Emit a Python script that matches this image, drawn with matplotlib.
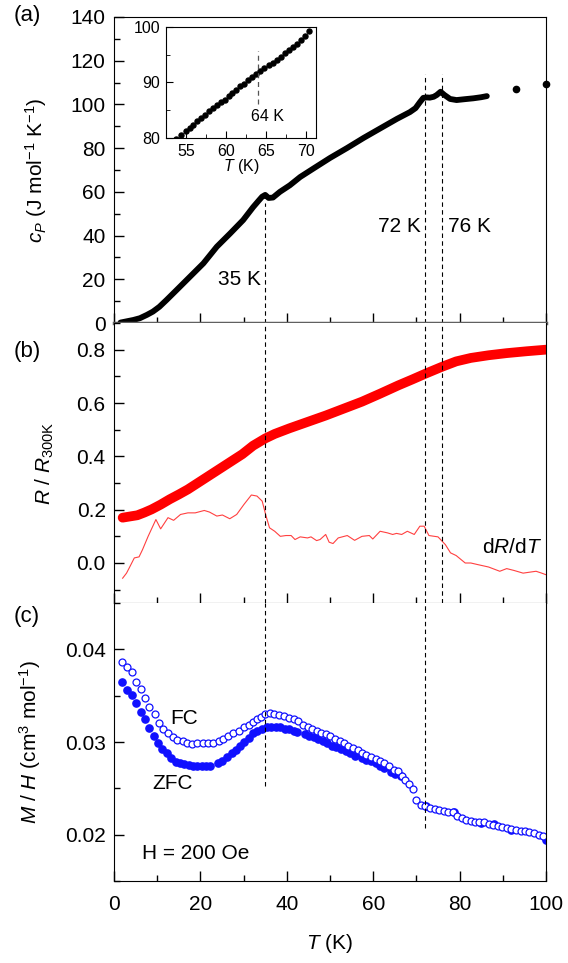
import matplotlib
matplotlib.use('Agg')
import matplotlib.pyplot as plt
from matplotlib.ticker import MultipleLocator

plt.rcParams['font.family'] = ['Liberation Sans', 'DejaVu Sans']
plt.rcParams['mathtext.fontset'] = 'custom'
plt.rcParams['mathtext.rm'] = 'Liberation Sans'
plt.rcParams['mathtext.it'] = 'Liberation Sans:italic'
plt.rcParams['font.size'] = 15

# (a) specific heat
T_cp = [1.5, 3, 4.5, 6, 7.6, 9, 10.5, 12.2, 14.5, 17.6, 20.7, 23.8, 26.9, 29.9,
        32.2, 33.5, 34.3, 35.0, 35.8, 36.8, 38.4, 40.7, 43.1, 46.1, 50, 53.9,
        57.8, 61.6, 65.5, 68.5, 69.8, 70.8, 71.6, 72.4, 73.1, 74.0, 74.7, 75.6,
        76.5, 77.8, 79.3, 81.2, 83.2, 85.0, 86.3]
cp = [0.2, 0.8, 1.4, 2.2, 3.7, 5.2, 7.4, 10.6, 15.1, 21.2, 27.3, 34.9, 41.0, 47.1,
      53.0, 56.0, 57.8, 58.6, 57.2, 57.4, 60.0, 63.0, 66.8, 70.6, 75.5, 80.0,
      84.7, 89.0, 93.4, 96.5, 98.3, 101.0, 103.0, 103.2, 103.1, 103.5, 104.3, 105.8,
      104.3, 102.5, 102.0, 102.4, 102.8, 103.3, 103.8]
T_cp_sparse = [93.1, 100.0]
cp_sparse = [106.9, 109.2]

# inset of (a)
T_in = [53.74, 54.44, 54.98, 55.47, 55.88, 56.38, 56.87, 57.37, 57.86, 58.36,
        58.85, 59.35, 59.84, 60.34, 60.83, 61.33, 61.82, 62.32, 62.81, 63.31,
        63.80, 64.34, 64.83, 65.37, 65.87, 66.40, 66.94, 67.43, 67.93, 68.42,
        68.92, 69.42, 69.91, 70.40]
cp_in = [79.9, 80.5, 81.2, 81.8, 82.4, 83.0, 83.6, 84.2, 84.8, 85.4,
         86.0, 86.5, 86.9, 87.5, 88.1, 88.7, 89.3, 89.7, 90.4, 91.0,
         91.6, 92.1, 92.6, 93.1, 93.6, 94.0, 94.6, 95.4, 95.8, 96.4,
         97.0, 97.7, 98.4, 99.3]

# (b) resistance
T_R = [2.0, 3.5, 5.4, 7.0, 8.7, 10.8, 12.9, 15.0, 17.1, 19.2, 21.3, 23.4, 25.5,
       27.6, 29.7, 32.2, 35.0, 37.2, 40.6, 44.8, 49.0, 53.2, 57.4, 61.6, 65.8,
       69.0, 72.1, 75.8, 79.2, 82.6, 86.7, 90.9, 95.5, 100.0]
R = [0.170, 0.174, 0.179, 0.189, 0.201, 0.219, 0.239, 0.257, 0.276, 0.298, 0.320,
     0.342, 0.364, 0.386, 0.408, 0.440, 0.467, 0.484, 0.505, 0.529, 0.553, 0.579,
     0.605, 0.635, 0.666, 0.688, 0.710, 0.735, 0.756, 0.769, 0.779, 0.787, 0.794, 0.800]

T_dR = [2.0, 2.9, 3.7, 4.7, 5.8, 6.6, 7.9, 9.7, 10.8, 12.5, 13.8, 15.4, 17.1, 18.8,
        20.9, 22.1, 23.8, 25.1, 26.8, 28.4, 30.1, 31.8, 33.1, 34.3, 35.2, 36.0,
        37.2, 38.5, 39.8, 41.0, 41.9, 43.1, 44.8, 45.6, 46.9, 47.7, 49.0, 49.8,
        50.7, 51.9, 54.0, 55.7, 57.4, 59.1, 59.9, 61.6, 63.3, 64.5, 65.4, 66.6,
        67.9, 69.5, 70.8, 71.8, 72.9, 75.0, 76.7, 77.9, 79.2, 81.3, 82.6, 84.2,
        86.7, 89.3, 90.9, 92.6, 94.7, 96.4, 97.7, 99.0, 100.0]
dRdT = [-0.057, -0.038, -0.013, 0.019, 0.023, 0.050, 0.100, 0.163, 0.128, 0.170,
        0.160, 0.182, 0.188, 0.188, 0.197, 0.191, 0.176, 0.180, 0.166, 0.182,
        0.220, 0.255, 0.251, 0.232, 0.176, 0.132, 0.119, 0.100, 0.103, 0.103,
        0.088, 0.098, 0.094, 0.098, 0.084, 0.088, 0.107, 0.078, 0.073, 0.094,
        0.103, 0.085, 0.100, 0.103, 0.090, 0.119, 0.113, 0.107, 0.111, 0.107,
        0.119, 0.107, 0.138, 0.138, 0.103, 0.098, 0.069, 0.038, 0.028, 0.000,
        0.000, -0.006, -0.015, -0.031, -0.021, -0.028, -0.038, -0.034, -0.031,
        -0.038, -0.044]

# (c) magnetisation
T_fc = [1.8, 3.0, 4.2, 5.2, 6.2, 7.2, 8.2, 9.4, 10.4, 11.4, 12.4, 13.6, 14.6, 15.9,
        16.9, 18.0, 19.2, 20.5, 21.7, 23.0, 24.2, 25.3, 26.3, 27.6, 28.9, 30.1,
        31.2, 32.2, 33.2, 34.1, 34.9, 36.0, 37.1, 38.3, 39.3, 40.4, 41.6, 42.7,
        43.8, 44.8, 45.8, 46.9, 48.0, 49.0, 50.0, 51.1, 52.2, 53.2, 54.2, 55.3,
        56.4, 57.4, 58.4, 59.5, 60.6, 61.6, 62.6, 63.7, 64.8, 65.8, 66.6, 67.4,
        68.3, 69.1, 70.0, 71.0, 72.1, 73.2, 74.2, 75.2, 76.3, 77.3, 78.4, 79.4,
        80.5, 81.5, 82.6, 83.6, 84.6, 85.7, 86.7, 87.8, 88.8, 89.9, 90.9, 91.9,
        93.0, 94.1, 95.1, 96.1, 97.2, 98.3, 99.3]
M_fc = [0.03867, 0.03813, 0.03755, 0.03647, 0.03568, 0.03470, 0.03380, 0.03297,
        0.03207, 0.03142, 0.03092, 0.03056, 0.03020, 0.03009, 0.02984, 0.02980,
        0.02984, 0.02984, 0.02984, 0.02991, 0.03009, 0.03034, 0.03063, 0.03092,
        0.03124, 0.03157, 0.03186, 0.03214, 0.03243, 0.03272, 0.03297, 0.03308,
        0.03297, 0.03290, 0.03279, 0.03261, 0.03243, 0.03225, 0.03186, 0.03157,
        0.03135, 0.03117, 0.03099, 0.03081, 0.03063, 0.03034, 0.03009, 0.02984,
        0.02962, 0.02937, 0.02912, 0.02883, 0.02865, 0.02840, 0.02818, 0.02793,
        0.02768, 0.02739, 0.02703, 0.02685, 0.02638, 0.02595, 0.02551, 0.02494,
        0.02378, 0.02324, 0.02314, 0.02288, 0.02278, 0.02270, 0.02252, 0.02241,
        0.02241, 0.02205, 0.02180, 0.02162, 0.02144, 0.02133, 0.02133, 0.02133,
        0.02119, 0.02108, 0.02090, 0.02083, 0.02072, 0.02061, 0.02054, 0.02043,
        0.02036, 0.02025, 0.02018, 0.02000, 0.01989]
T_zfc = [1.8, 3.0, 4.2, 5.2, 6.2, 7.2, 8.2, 9.2, 10.2, 11.2, 12.2, 13.3, 14.3, 15.3,
         16.3, 17.3, 18.3, 19.3, 20.3, 21.3, 22.3, 24.0, 25.1, 26.2, 27.2, 28.2,
         29.2, 30.2, 31.2, 32.2, 33.2, 34.3, 35.4, 36.4, 37.4, 38.5, 39.6, 40.6,
         41.6, 42.4, 44.1, 45.2, 46.3, 47.3, 48.3, 49.4, 50.5, 51.5, 52.5, 53.6,
         54.7, 55.7, 57.4, 58.4, 59.5, 60.6, 61.6, 62.6, 64.1, 65.1, 66.5, 72.3,
         78.8, 85.0, 88.0, 92.0, 100.0]
M_zfc = [0.03647, 0.03560, 0.03503, 0.03416, 0.03323, 0.03250, 0.03153, 0.03063,
         0.02984, 0.02926, 0.02876, 0.02829, 0.02782, 0.02768, 0.02760, 0.02750,
         0.02746, 0.02746, 0.02746, 0.02746, 0.02739, 0.02768, 0.02793, 0.02840,
         0.02876, 0.02912, 0.02955, 0.02998, 0.03045, 0.03092, 0.03124, 0.03142,
         0.03157, 0.03164, 0.03164, 0.03157, 0.03142, 0.03135, 0.03124, 0.03106,
         0.03081, 0.03070, 0.03056, 0.03034, 0.03009, 0.02984, 0.02962, 0.02948,
         0.02926, 0.02901, 0.02876, 0.02854, 0.02829, 0.02811, 0.02793, 0.02768,
         0.02739, 0.02721, 0.02674, 0.02660, 0.02630, 0.02310, 0.02240, 0.02130,
         0.02110, 0.02050, 0.01946]

# transition temperatures (dashed lines)
T_a = [35, 72, 76]
T_a_top = [55, 114, 114]
T_c = [35, 72]
T_c_bottom = [0.0252, 0.0207]

W, H = 568, 963
fig = plt.figure(figsize=(W / 100, H / 100), dpi=100)
left, width = 114 / W, 432 / W
ax_a = fig.add_axes([left, 1 - 323 / H, width, 306 / H])
ax_b = fig.add_axes([left, 1 - 603 / H, width, 280 / H])
ax_c = fig.add_axes([left, 1 - 881 / H, width, 278 / H])


def style(ax):
    ax.set_xlim(0, 100)
    ax.xaxis.set_major_locator(MultipleLocator(20))
    ax.xaxis.set_minor_locator(MultipleLocator(10))
    ax.tick_params(which='both', direction='in', top=False, right=False, width=1, labelsize=15)
    ax.tick_params(which='major', length=7.5)
    ax.tick_params(which='minor', length=4)
    ax.tick_params(axis='y', pad=6)
    ax.tick_params(axis='x', pad=10)


for ax in (ax_a, ax_b, ax_c):
    style(ax)

# panel (a)
ax_a.plot(T_cp, cp, '-', color='black', lw=4.2, solid_capstyle='round', solid_joinstyle='round')
ax_a.plot(T_cp_sparse, cp_sparse, 'o', color='black', ms=4.5, clip_on=False)
ax_a.set_ylim(0, 140)
ax_a.yaxis.set_major_locator(MultipleLocator(20))
ax_a.yaxis.set_minor_locator(MultipleLocator(10))
ax_a.tick_params(labelbottom=False)
ax_a.spines['bottom'].set_color('#606060')
ax_a.spines['bottom'].set_linewidth(2.5)
ax_a.vlines(T_a, 0, T_a_top, colors='black', linestyles=(0, (4, 3)), lw=0.8)
ax_a.text(34, 20, '35 K', ha='right', va='center')
ax_a.text(71, 44, '72 K', ha='right', va='center')
ax_a.text(77.2, 44, '76 K', ha='left', va='center')
ax_a.set_ylabel(r'$c_P$ (J mol$^{-1}$ K$^{-1}$)')
ax_a.yaxis.set_label_coords(-0.15, 0.5)

# inset
ax_in = fig.add_axes([166 / W, 1 - 138 / H, 150 / W, 111 / H])
ax_in.plot(T_in, cp_in, 'o', color='black', ms=3.6)
ax_in.set_xlim(52.5, 71.3)
ax_in.set_ylim(80, 100)
ax_in.xaxis.set_major_locator(MultipleLocator(5))
ax_in.xaxis.set_minor_locator(MultipleLocator(2.5))
ax_in.yaxis.set_major_locator(MultipleLocator(10))
ax_in.yaxis.set_minor_locator(MultipleLocator(5))
ax_in.tick_params(which='both', direction='in', top=False, right=False, labelsize=11.5, pad=4)
ax_in.tick_params(which='major', length=5)
ax_in.tick_params(which='minor', length=3)
ax_in.vlines([64], 86.2, 95.7, colors='#555555', linestyles=(0, (4, 3)), lw=0.9)
ax_in.text(65.2, 83.8, '64 K', ha='center', va='center', fontsize=11.5)
ax_in.set_xlabel(r'$T$ (K)', fontsize=11.5, labelpad=-1)

# panel (b)
ax_b.plot(T_R, R, '-', color='#ff0000', lw=7, solid_capstyle='round', solid_joinstyle='round')
ax_b.plot(T_dR, dRdT, '-', color='#ff4040', lw=0.8)
ax_b.set_ylim(-0.15, 0.9)
ax_b.set_yticks([0.0, 0.2, 0.4, 0.6, 0.8])
ax_b.set_yticklabels(['0.0', '0.2', '0.4', '0.6', '0.8'])
ax_b.yaxis.set_minor_locator(MultipleLocator(0.1))
ax_b.tick_params(labelbottom=False)
ax_b.spines['top'].set_visible(False)
ax_b.vlines(T_a, -0.15, 0.9, colors='black', linestyles=(0, (4, 3)), lw=0.8)
ax_b.text(99, 0.057, r'd$R$/d$T$', ha='right', va='center')
ax_b.set_ylabel(r'$R$ / $R_{\mathrm{300K}}$')
ax_b.yaxis.set_label_coords(-0.135, 0.5)

# panel (c)
ax_c.plot(T_zfc, M_zfc, 'o', color='#1010ff', ms=5.2, mec='#1010ff')
ax_c.plot(T_fc, M_fc, 'o', color='#1010ff', ms=5.0, mfc='white', mec='#1010ff', mew=0.9)
ax_c.set_ylim(0.015, 0.045)
ax_c.set_yticks([0.02, 0.03, 0.04])
ax_c.set_yticklabels(['0.02', '0.03', '0.04'])
ax_c.yaxis.set_minor_locator(MultipleLocator(0.005))
ax_c.spines['top'].set_visible(False)
ax_c.vlines(T_c, T_c_bottom, 0.045, colors='black', linestyles=(0, (4, 3)), lw=0.8)
ax_c.text(16.3, 0.0325, 'FC', ha='center', va='center')
ax_c.text(13.6, 0.0255, 'ZFC', ha='center', va='center')
ax_c.text(18.8, 0.0180, 'H = 200 Oe', ha='center', va='center')
ax_c.set_ylabel(r'$M$ / $H$ (cm$^3$ mol$^{-1}$)')
ax_c.yaxis.set_label_coords(-0.165, 0.5)

fig.text(330 / W, 1 - 943 / H, r'$T$ (K)', ha='center', va='center', fontsize=15)
fig.text(27 / W, 1 - 15 / H, '(a)', ha='center', va='center', fontsize=16)
fig.text(27 / W, 1 - 351 / H, '(b)', ha='center', va='center', fontsize=16)
fig.text(27 / W, 1 - 616 / H, '(c)', ha='center', va='center', fontsize=16)

fig.savefig('out.png', dpi=100)
